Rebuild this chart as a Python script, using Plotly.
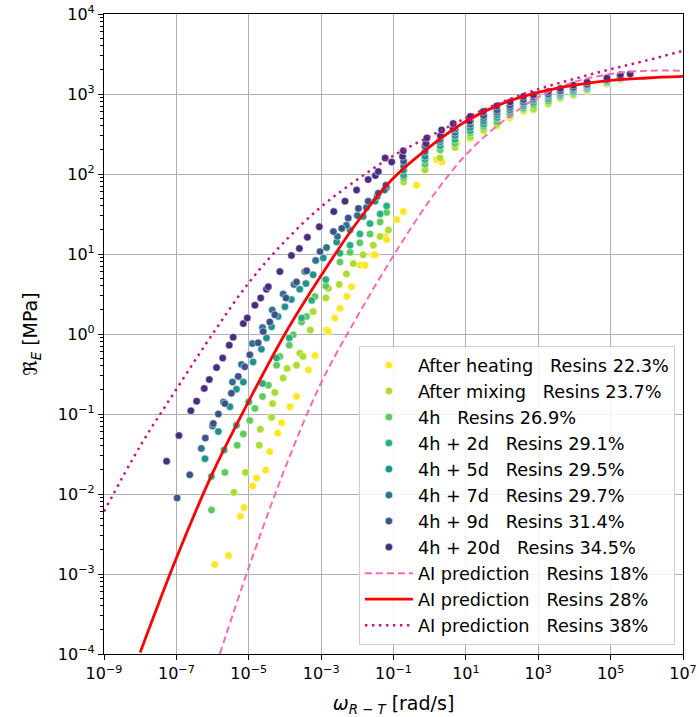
import numpy as np
import plotly.graph_objects as go

# ---- data (log10 values) ----
heat_lx = [-5.94, -5.56, -5.23, -5.13, -4.89, -4.78, -4.53, -4.42, -4.20, -4.09, -3.86, -3.68, -3.35, -3.17,
           -2.85, -2.80, -2.62, -2.48, -2.29, -2.16, -1.93, -1.79, -1.56, -1.51, -1.23, -1.19, -0.91, -0.73,
           -0.36, 0.19, 0.34, 0.75, 1.12, 1.49, 1.86, 2.22, 2.59, 2.87, 3.28, 3.61, 3.97, 4.35, 4.90]
heat_ly = [-2.88, -2.77, -2.28, -2.17, -1.90, -1.80, -1.70, -1.47, -1.24, -1.11, -0.91, -0.78, -0.45, -0.27,
           0.05, 0.03, 0.20, 0.32, 0.47, 0.59, 0.86, 0.86, 0.99, 0.99, 1.22, 1.18, 1.43, 1.53,
           1.86, 2.18, 2.15, 2.38, 2.44, 2.53, 2.60, 2.70, 2.78, 2.80, 2.87, 2.94, 2.98, 3.04, 3.12]

mix_lx = [-5.41, -5.09, -4.71, -4.68, -4.37, -4.34, -4.28, -4.05, -3.94, -3.68, -3.59, -3.50, -3.30, -3.22,
          -2.87, -2.80, -2.50, -2.30, -2.11, -1.84, -1.56, -1.37, -1.14, -0.72, -0.13, 0.29, 0.70, 1.12,
          1.49, 1.86, 2.22, 2.59, 2.87, 3.28, 3.61, 3.97, 4.35, 4.90, 5.27]
mix_ly = [-1.98, -1.73, -1.39, -1.19, -1.04, -0.87, -0.73, -0.55, -0.43, -0.39, -0.24, -0.28, 0.05, 0.28,
          0.45, 0.57, 0.62, 0.75, 0.88, 0.99, 1.11, 1.22, 1.30, 1.90, 2.05, 2.20, 2.33, 2.46,
          2.55, 2.62, 2.73, 2.80, 2.81, 2.88, 2.95, 2.99, 3.05, 3.13, 3.18]

h4_lx = [-6.03, -5.66, -5.32, -5.15, -4.97, -4.83, -4.62, -4.46, -4.23, -4.14, -3.88, -3.77, -3.54, -3.40,
         -3.17, -2.87, -2.48, -2.20, -1.93, -1.65, -1.37, -1.19, -0.72, -0.13, 0.29, 0.70, 1.12, 1.49,
         1.86, 2.22, 2.59, 2.87, 3.28, 3.61, 3.97, 4.35, 4.90, 5.27]
h4_ly = [-2.20, -1.73, -1.39, -1.25, -1.08, -0.93, -0.78, -0.64, -0.39, -0.28, -0.14, -0.01, 0.15, 0.22,
         0.47, 0.60, 0.90, 1.02, 1.14, 1.25, 1.40, 1.52, 1.95, 2.12, 2.30, 2.38, 2.51, 2.59,
         2.65, 2.74, 2.82, 2.86, 2.91, 2.97, 3.01, 3.06, 3.14, 3.19]

d2_lx = [-6.03, -5.68, -5.34, -5.00, -4.62, -4.23, -3.88, -3.54, -3.26, -2.87, -2.48, -2.20, -1.93, -1.65,
         -1.37, -1.19, -0.72, -0.13, 0.29, 0.70, 1.12, 1.49, 1.86, 2.22, 2.59, 2.87, 3.28, 3.61,
         3.97, 4.35, 4.90, 5.27]
d2_ly = [-1.78, -1.45, -1.14, -0.85, -0.62, -0.30, -0.05, 0.20, 0.42, 0.68, 1.01, 1.11, 1.25, 1.38,
         1.50, 1.60, 1.98, 2.18, 2.35, 2.43, 2.54, 2.62, 2.70, 2.77, 2.85, 2.89, 2.94, 2.99,
         3.03, 3.08, 3.15, 3.20]

d5_lx = [-6.21, -5.84, -5.52, -5.34, -5.15, -4.88, -4.65, -4.51, -4.37, -4.19, -4.00, -3.82, -3.59, -3.42,
         -3.22, -2.94, -2.57, -2.20, -1.84, -1.51, -1.19, -0.72, -0.13, 0.29, 0.70, 1.12, 1.49, 1.86,
         2.22, 2.59, 2.87, 3.28, 3.61, 3.97, 4.35, 4.90, 5.27]
d5_ly = [-1.56, -1.22, -0.91, -0.69, -0.60, -0.35, -0.19, -0.05, 0.09, 0.22, 0.34, 0.43, 0.56, 0.63,
         0.74, 0.95, 1.15, 1.30, 1.47, 1.66, 1.83, 2.05, 2.22, 2.40, 2.48, 2.58, 2.66, 2.74,
         2.80, 2.88, 2.92, 2.97, 3.01, 3.05, 3.10, 3.16, 3.21]

d7_lx = [-6.31, -6.00, -5.70, -5.45, -5.20, -4.90, -4.62, -4.35, -4.05, -3.75, -3.45, -3.15, -2.85, -2.55,
         -2.30, -2.00, -1.75, -1.45, -1.25, -0.72, -0.13, 0.29, 0.70, 1.12, 1.49, 1.86, 2.22, 2.59,
         2.87, 3.28, 3.61, 3.97, 4.35, 4.90, 5.27]
d7_ly = [-1.43, -1.15, -0.85, -0.60, -0.38, -0.12, 0.08, 0.30, 0.50, 0.62, 0.78, 0.92, 1.08, 1.22,
         1.36, 1.48, 1.58, 1.72, 1.80, 2.10, 2.28, 2.43, 2.52, 2.62, 2.70, 2.77, 2.83, 2.90,
         2.94, 2.99, 3.03, 3.07, 3.11, 3.17, 3.22]

d9_lx = [-6.98, -6.63, -6.20, -5.98, -5.84, -5.66, -5.48, -5.29, -5.11, -4.97, -4.74, -4.60, -4.42, -4.28,
         -3.97, -3.68, -3.40, -3.03, -2.66, -2.43, -2.25, -1.97, -1.70, -1.42, -1.21, -0.72, -0.13, 0.29,
         0.70, 1.12, 1.49, 1.86, 2.22, 2.59, 2.87, 3.28, 3.61, 3.97, 4.35, 4.90, 5.27]
d9_ly = [-2.05, -1.76, -1.30, -1.12, -1.00, -0.87, -0.74, -0.53, -0.41, -0.26, -0.11, 0.03, 0.15, 0.24,
         0.45, 0.65, 0.79, 1.03, 1.28, 1.32, 1.45, 1.57, 1.66, 1.76, 1.86, 2.16, 2.35, 2.47,
         2.56, 2.66, 2.73, 2.80, 2.86, 2.93, 2.96, 3.00, 3.04, 3.08, 3.12, 3.18, 3.22]

d20_lx = [-7.27, -6.93, -6.60, -6.44, -6.23, -6.09, -5.89, -5.72, -5.54, -5.43, -5.15, -5.04, -4.83, -4.67,
          -4.51, -4.46, -4.14, -3.82, -3.60, -3.38, -3.05, -2.65, -2.34, -2.02, -1.70, -1.50, -1.42, -1.23,
          -1.05, -0.75, -0.73, -0.10, -0.08, 0.30, 0.33, 0.65, 0.65, 1.10, 1.12, 1.48, 1.85, 2.22, 2.59,
          2.87, 3.28, 3.61, 3.97, 4.35, 4.90, 5.27, 5.54]
d20_ly = [-1.59, -1.27, -0.96, -0.84, -0.68, -0.57, -0.42, -0.30, -0.14, -0.04, 0.13, 0.20, 0.36, 0.45,
          0.56, 0.59, 0.78, 0.98, 1.07, 1.21, 1.34, 1.53, 1.66, 1.80, 1.93, 1.98, 2.03, 2.20,
          2.15, 2.22, 2.29, 2.38, 2.45, 2.48, 2.55, 2.57, 2.63, 2.66, 2.72, 2.78, 2.85, 2.90, 2.97,
          2.99, 3.03, 3.07, 3.11, 3.15, 3.20, 3.24, 3.25]

# AI prediction curves (log10 values, roughly one per decade)
p18_lx = [-5.80, -5.00, -4.00, -3.00, -2.00, -1.00, 0.00, 1.00, 2.00, 3.00, 4.00, 5.00, 6.00, 7.00]
p18_ly = [-4.00, -2.92, -1.68, -0.61, 0.22, 0.98, 1.67, 2.24, 2.65, 2.96, 3.15, 3.25, 3.29, 3.29]
p28_lx = [-8.00, -7.00, -6.00, -5.00, -4.00, -3.00, -2.00, -1.00, 0.00, 1.00, 2.00, 3.00, 4.00, 5.00,
          6.00, 7.00]
p28_ly = [-3.98, -2.80, -1.74, -0.84, 0.00, 0.73, 1.40, 1.95, 2.34, 2.66, 2.88, 3.02, 3.11, 3.17,
          3.20, 3.22]
p38_lx = [-9.00, -8.00, -7.00, -6.00, -5.00, -4.00, -3.00, -2.00, -1.00, 0.00, 1.00, 2.00, 3.00, 4.00,
          5.00, 6.00, 7.00]
p38_ly = [-2.22, -1.40, -0.69, 0.00, 0.64, 1.16, 1.59, 1.93, 2.23, 2.47, 2.70, 2.90, 3.06, 3.19,
          3.31, 3.42, 3.54]

NB = "\u00a0"
series = [
    ("After heating" + NB * 3 + "Resins 22.3%", heat_lx, heat_ly, "#fde725"),
    ("After mixing" + NB * 3 + "Resins 23.7%", mix_lx, mix_ly, "#addc30"),
    ("4h" + NB * 3 + "Resins 26.9%", h4_lx, h4_ly, "#5ec962"),
    ("4h + 2d" + NB * 3 + "Resins 29.1%", d2_lx, d2_ly, "#28ae80"),
    ("4h + 5d" + NB * 3 + "Resins 29.5%", d5_lx, d5_ly, "#21918c"),
    ("4h + 7d" + NB * 3 + "Resins 29.7%", d7_lx, d7_ly, "#2c728e"),
    ("4h + 9d" + NB * 3 + "Resins 31.4%", d9_lx, d9_ly, "#3b528b"),
    ("4h + 20d" + NB * 3 + "Resins 34.5%", d20_lx, d20_ly, "#472d7b"),
]
lines = [
    ("AI prediction" + NB * 3 + "Resins 18%", p18_lx, p18_ly, "#ff69b4", "7px,4px", 2),
    ("AI prediction" + NB * 3 + "Resins 28%", p28_lx, p28_ly, "#ff0000", "solid", 2.8),
    ("AI prediction" + NB * 3 + "Resins 38%", p38_lx, p38_ly, "#c71585", "2.5px,4.5px", 2.5),
]

fig = go.Figure()
for name, lx, ly, col in series:
    fig.add_trace(go.Scatter(
        x=10 ** np.array(lx), y=10 ** np.array(ly), mode="markers", name=name,
        marker=dict(size=7.5, color=col, line=dict(width=0.5, color="white")),
    ))
for name, lx, ly, col, dash, w in lines:
    fig.add_trace(go.Scatter(
        x=10 ** np.array(lx), y=10 ** np.array(ly), mode="lines", name=name,
        line=dict(color=col, dash=dash, width=w, shape="spline", smoothing=1.0),
    ))

xt = [-9, -7, -5, -3, -1, 1, 3, 5, 7]
yt = [-4, -3, -2, -1, 0, 1, 2, 3, 4]


def lab(e):
    s = str(e).replace("-", "\u2212")
    return f"10<sup>{s}</sup>"


yminor = [m * 10.0 ** e for e in range(-4, 4) for m in range(2, 10)]

axis_common = dict(
    showline=True, linecolor="black", linewidth=1.2, mirror=True,
    ticks="outside", ticklen=5, tickcolor="black", tickwidth=1,
    showgrid=True, gridcolor="#b0b0b0", gridwidth=1, zeroline=False,
    tickfont=dict(size=16, color="black"), automargin=False,
    ticklabeloverflow="allow",
)
fig.update_xaxes(type="log", range=[-9, 7], tickvals=[10.0 ** e for e in xt],
                 ticktext=[lab(e) for e in xt],
                 title=dict(text="<i>ω</i><sub><i>R</i> − <i>T</i></sub> [rad/s]",
                            font=dict(size=19, color="black"), standoff=14),
                 **axis_common)
fig.update_yaxes(type="log", range=[-4, 4], tickvals=[10.0 ** e for e in yt],
                 ticktext=[lab(e) for e in yt],
                 minor=dict(tickvals=yminor, ticks="outside", ticklen=2.5, tickcolor="black",
                            showgrid=False),
                 title=dict(text="ℜ<sub><i>E</i></sub> [MPa]", font=dict(size=19, color="black"),
                            standoff=15),
                 **axis_common)

fig.update_layout(
    width=699, height=717,
    margin=dict(l=104, r=16, t=14, b=63),
    paper_bgcolor="white", plot_bgcolor="white",
    font=dict(family="DejaVu Sans", color="black"),
    showlegend=True,
    legend=dict(x=0.986, y=0.014, xanchor="right", yanchor="bottom",
                bgcolor="rgba(255,255,255,0.85)", bordercolor="#cccccc", borderwidth=1,
                font=dict(size=17.7, color="black"), tracegroupgap=0,
                itemwidth=48),
)

# remove the default page-body margin so the figure sits at the window's corner
fig.write_html("out.html", config={"displayModeBar": False},
               post_script="document.body.style.margin='0px';")
